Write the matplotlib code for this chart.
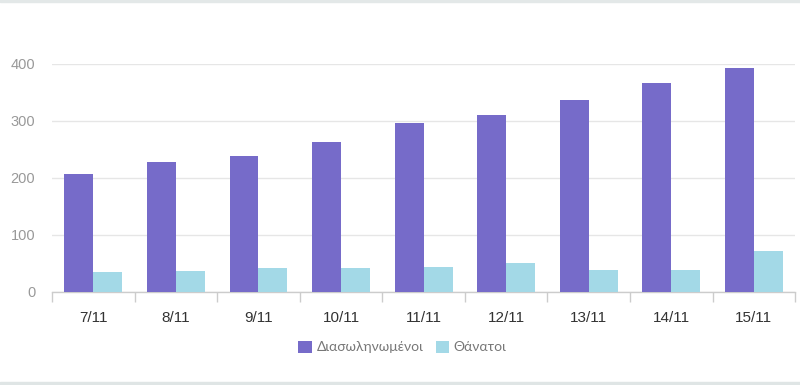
"""
Daily recovered vs deaths bar chart (7/11 - 15/11).
"""
import matplotlib.pyplot as plt
import numpy as np

dates = ['7/11', '8/11', '9/11', '10/11', '11/11', '12/11', '13/11', '14/11', '15/11']
recovered = [207, 228, 239, 263, 296, 310, 337, 367, 393]
deaths = [35, 37, 42, 42, 44, 51, 39, 39, 72]

purple = '#766bc9'
light_blue = '#a3d9e7'

plt.rcParams['font.family'] = ['Liberation Sans', 'DejaVu Sans']

fig = plt.figure(figsize=(8, 3.85), dpi=100, facecolor='white')
ax = fig.add_axes([0.065, 0.2416, 0.929, 0.5926])

x = np.arange(len(dates))
w = 0.35
ax.bar(x - w / 2, recovered, width=w, color=purple, label='Διασωληνωμένοι', zorder=3)
ax.bar(x + w / 2, deaths, width=w, color=light_blue, label='Θάνατοι', zorder=3)

ax.set_xlim(-0.5, len(dates) - 0.5)
ax.set_ylim(0, 400)
ax.set_yticks([0, 100, 200, 300, 400])
ax.yaxis.grid(True, color='#e6e6e6', linewidth=1, zorder=0)

for s in ['top', 'right', 'left']:
    ax.spines[s].set_visible(False)
ax.spines['bottom'].set_color('#cccccc')
ax.spines['bottom'].set_linewidth(1)

ax.tick_params(axis='y', length=0, labelsize=10.5, labelcolor='#999999', pad=12)
ax.set_xticks(x)
ax.set_xticklabels(dates, fontsize=11, color='#333333')
ax.tick_params(axis='x', length=0, pad=14)
# category boundary ticks
ax.set_xticks(np.arange(len(dates) + 1) - 0.5, minor=True)
ax.tick_params(axis='x', which='minor', length=7, color='#cccccc', width=1)

leg = fig.legend(loc='center', bbox_to_anchor=(0.503, 1 - 347 / 385), ncol=2, frameon=False,
                 prop={'family': ['Lato', 'DejaVu Sans'], 'size': 10},
                 handlelength=0.95, handleheight=0.95, columnspacing=0.9,
                 handletextpad=0.35)
for t in leg.get_texts():
    t.set_color('#777777')

# thin grey bands at top and bottom edges
fig.patches.append(plt.Rectangle((0, 0), 1, 3 / 385, transform=fig.transFigure,
                                 color='#dfe5e5', zorder=0))
fig.patches.append(plt.Rectangle((0, 1 - 2 / 385), 1, 2 / 385, transform=fig.transFigure,
                                 color='#e3e8e8', zorder=0))

plt.savefig('out.png', dpi=100, facecolor='white')
